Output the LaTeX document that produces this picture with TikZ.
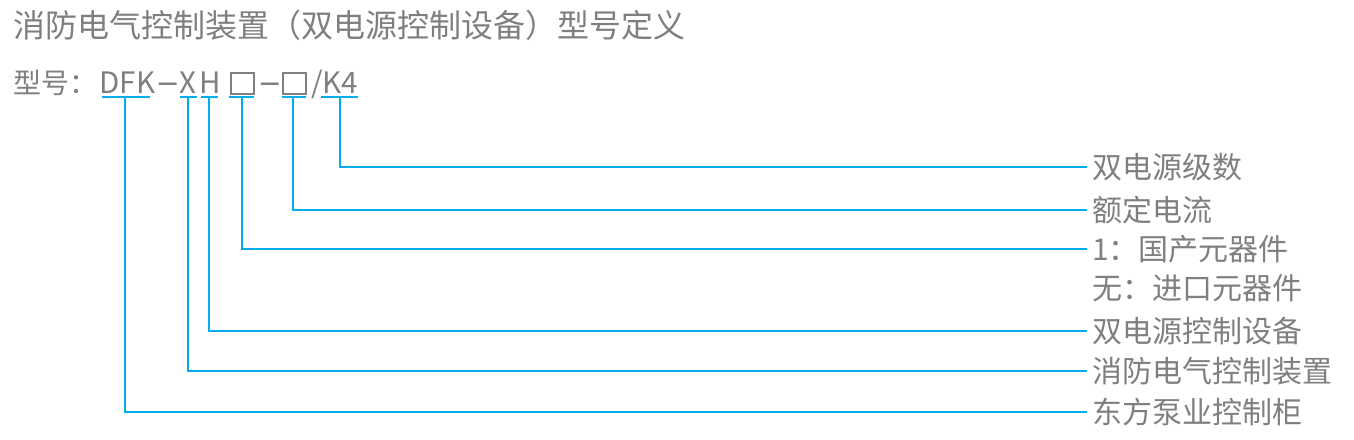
\documentclass[tikz,border=0pt]{standalone}
\usepackage{fontspec}
\setmainfont{Noto Sans CJK SC}
\definecolor{txt}{HTML}{7F7F7F}
\definecolor{ln}{HTML}{00AEEF}
\begin{document}
\begin{tikzpicture}[x=1pt,y=-1pt,
 lab/.style={anchor=west,inner xsep=5pt,inner ysep=0pt,text=txt,font=\fontsize{30}{30}\selectfont},
 mdl/.style={anchor=base west,inner sep=0pt,text=txt,font=\fontsize{28}{28}\selectfont},
 ltn/.style={mdl,font=\fontsize{29.5}{30}\selectfont},
 dsh/.style={mdl,font=\fontsize{40}{40}\selectfont},
 conn/.style={draw=ln,line width=1.5pt},
 ph/.style={draw=txt,line width=1.8pt,minimum width=23.5pt,minimum height=21pt,inner sep=0pt}]
\useasboundingbox (0,0) rectangle (1354,439);
% title
\node[anchor=west,inner sep=0pt,text=txt,font=\fontsize{32}{32}\selectfont] (title) at (13,25) {消防电气控制装置（双电源控制设备）型号定义};
% model line
\node[mdl] (xh) at (13,93) {型号：};
\node[ltn] (dfk) at (99.5,93) {DFK};
\node[dsh] (d1) at (157,95.5) {–};
\node[ltn] (x) at (179,93) {X};
\node[ltn] (h) at (199,93) {H};
\node[ph] (b1) at (242.5,83.5) {};
\node[dsh] (d2) at (259,95.5) {–};
\node[ph] (b2) at (294.5,83.5) {};
\node[ltn] (k4) at (311,93) {/K4};
% labels
\node[lab] (l1) at (1087,167) {双电源级数};
\node[lab] (l2) at (1087,210) {额定电流};
\node[lab] (l3) at (1087,249) {1：国产元器件};
\node[lab] (l4) at (1087,288) {无：进口元器件};
\node[lab] (l5) at (1087,331) {双电源控制设备};
\node[lab] (l6) at (1087,371) {消防电气控制装置};
\node[lab] (l7) at (1087,412) {东方泵业控制柜};
% underlines
\coordinate (ua1) at (102,97); \coordinate (ub1) at (150,97); \coordinate (m1) at (125,97);
\coordinate (ua2) at (180,97); \coordinate (ub2) at (197,97); \coordinate (m2) at (188,97);
\coordinate (ua3) at (201,97); \coordinate (ub3) at (218,97); \coordinate (m3) at (209,97);
\coordinate (ua4) at (229,97); \coordinate (ub4) at (254,97); \coordinate (m4) at (242,97);
\coordinate (ua5) at (282,97); \coordinate (ub5) at (306,97); \coordinate (m5) at (293,97);
\coordinate (ua6) at (321,97); \coordinate (ub6) at (358,97); \coordinate (m6) at (340,97);
\foreach \i in {1,...,6} {\draw[conn] (ua\i) -- (ub\i);}
% connectors
\draw[conn] (m6) |- (l1.west);
\draw[conn] (m5) |- (l2.west);
\draw[conn] (m4) |- (l3.west);
\draw[conn] (m3) |- (l5.west);
\draw[conn] (m2) |- (l6.west);
\draw[conn] (m1) |- (l7.west);
\end{tikzpicture}
\end{document}
